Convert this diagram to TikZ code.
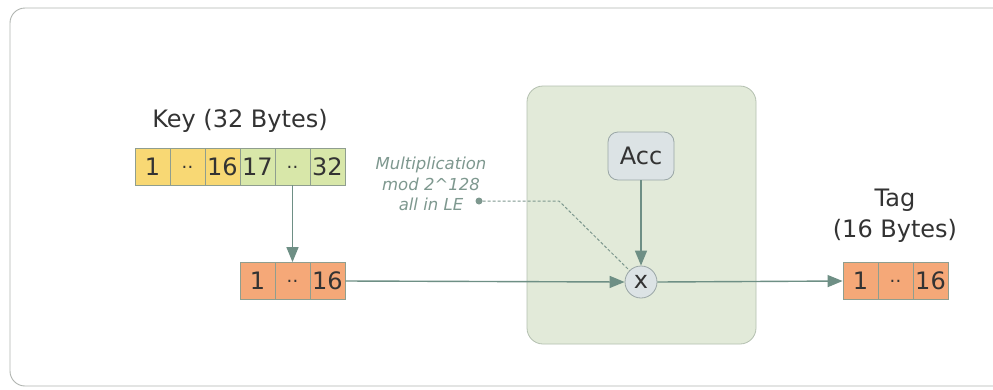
\documentclass[tikz,border=0pt]{standalone}
\usepackage{fontspec}
\setmainfont{DejaVu Sans}
\usetikzlibrary{arrows.meta}

\definecolor{keyyellow}{HTML}{F8D874}
\definecolor{keygreen}{HTML}{D8E7A9}
\definecolor{byteorange}{HTML}{F5A878}
\definecolor{cellline}{HTML}{8F9E8F}
\definecolor{flow}{HTML}{6E8F85}
\definecolor{panel}{HTML}{E2EAD9}
\definecolor{panelline}{HTML}{B4C0B0}
\definecolor{accfill}{HTML}{DCE3E5}
\definecolor{accline}{HTML}{9AA6A6}
\definecolor{notecol}{HTML}{7E988F}
\definecolor{ink}{HTML}{333333}
\definecolor{framecol}{HTML}{B0B4B0}

% two small raised dots standing for the elided bytes
\newcommand{\bytegap}{\raisebox{7pt}{\fontsize{18}{18}\selectfont.\kern0.5pt.}}

\begin{document}
\begin{tikzpicture}[x=1pt,y=-1pt,
  big/.style={font=\fontsize{24}{31}\selectfont, text=ink},
  cell/.style={draw=cellline, line width=0.8pt, minimum width=35pt,
    minimum height=37pt, inner sep=0pt, anchor=center, big,
    text height=17.5pt, text depth=0pt},
  yel/.style={cell, fill=keyyellow},
  grn/.style={cell, fill=keygreen},
  org/.style={cell, fill=byteorange},
  flowline/.style={draw=flow, line width=1.4pt},
  flowarrow/.style={flowline, -{Triangle[length=15pt,width=12pt]}},
  note/.style={font=\fontsize{16.5}{20.5}\selectfont\itshape, text=notecol, align=center},
]
\useasboundingbox (0,0) rectangle (993,389);
\clip (0,0) rectangle (993,389);

% outer frame
\draw[draw=framecol, line width=0.9pt, fill=white, rounded corners=15pt]
  (10,8) rectangle (1020,386);

% multiplication panel
\draw[draw=panelline, line width=0.8pt, fill=panel, rounded corners=16pt]
  (527,86) rectangle (756,344);

% key bytes
\node[big, anchor=base] (keylabel) at (240,127) {Key (32 Bytes)};
\node[yel] (k1) at (152.5,166.5) {1};
\node[yel] (k2) at (187.5,166.5) {\bytegap};
\node[yel] (k3) at (222.5,166.5) {16};
\node[grn] (k4) at (257.5,166.5) {17};
\node[grn] (k5) at (292.5,166.5) {\bytegap};
\node[grn] (k6) at (327.5,166.5) {32};

% lower key half
\node[org] (m1) at (257.5,281) {1};
\node[org] (m2) at (292.5,281) {\bytegap};
\node[org] (m3) at (327.5,281) {16};

% accumulator and multiply
\node[draw=accline, line width=0.8pt, fill=accfill, rounded corners=10pt,
  minimum width=66pt, minimum height=48pt, big, inner sep=0pt] (acc) at (641,156) {Acc};
\node[circle, draw=accline, line width=0.8pt, fill=accfill, minimum size=32pt,
  inner sep=0pt, big] (mul) at (641,282) {x};

% tag bytes
\node[big, align=center, anchor=center] (taglabel) at (895,216) {Tag\\(16 Bytes)};
\node[org] (t1) at (860.5,281) {1};
\node[org] (t2) at (895.5,281) {\bytegap};
\node[org] (t3) at (930.5,281) {16};

% annotation
\node[note] (mulnote) at (431,184) {Multiplication\\mod 2\^{}128\\all in LE};
\node[circle, fill=notecol, minimum size=7pt, inner sep=0pt] (dot) at (479,201) {};
\coordinate (bend) at (559,201);
\draw[draw=notecol, line width=1pt, dash pattern=on 3pt off 2pt] (dot) -- (bend) -- (mul.135);

% data flow
\draw[flowarrow] (k5.south) -- (m2.north);
\draw[flowarrow] (acc.south) -- (mul.north);
\draw[flowarrow] (m3.east) -- (mul.west);
\draw[flowarrow] (mul.east) -- (t1.west);
\end{tikzpicture}
\end{document}
